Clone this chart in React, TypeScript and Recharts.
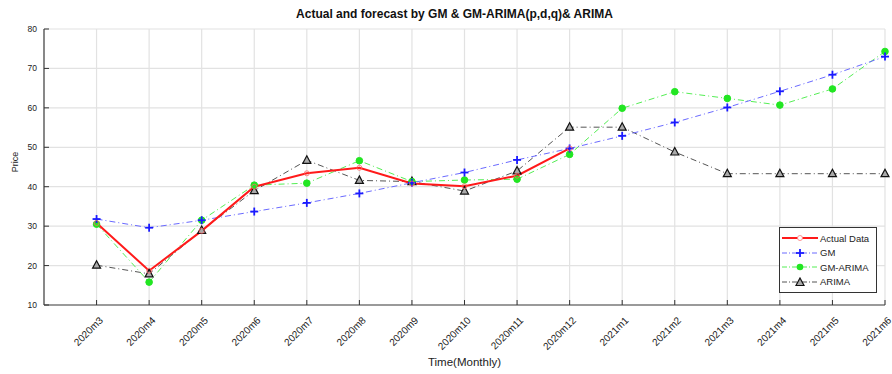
import { LineChart, Line, XAxis, YAxis, CartesianGrid } from "recharts";

// months on the x axis (plotted at positions 1..16)
const months = [
  "2020m3", "2020m4", "2020m5", "2020m6", "2020m7", "2020m8", "2020m9", "2020m10",
  "2020m11", "2020m12", "2021m1", "2021m2", "2021m3", "2021m4", "2021m5", "2021m6",
];
const xTicks = [1, 2, 3, 4, 5, 6, 7, 8, 9, 10, 11, 12, 13, 14, 15, 16];
const yTicks = [10, 20, 30, 40, 50, 60, 70, 80];

const actual = [30.8, 18.7, 28.8, 40.0, 43.4, 44.8, 40.8, 40.1, 42.8, 49.7];
const gm = [31.8, 29.6, 31.5, 33.7, 35.9, 38.3, 41.0, 43.6, 46.8, 49.7, 52.9, 56.3, 60.1, 64.2, 68.4, 73.0];
const gmArima = [30.5, 15.8, 31.5, 40.4, 40.9, 46.6, 41.3, 41.7, 41.9, 48.2, 59.9, 64.1, 62.4, 60.7, 64.8, 74.3];
const arima = [20.1, 17.9, 28.9, 39.0, 46.7, 41.6, 41.3, 38.9, 44.0, 55.1, 55.1, 48.8, 43.3, 43.3, 43.3, 43.3];

const data = months.map((m, i) => ({
  idx: i + 1,
  month: m,
  actual: i < actual.length ? actual[i] : null,
  gm: gm[i],
  gmArima: gmArima[i],
  arima: arima[i],
}));

const FONT = "'Liberation Sans', Arial, sans-serif";
const TXT = "#222";

const BottomTick = (props: any) => {
  const { x, y, payload } = props;
  const ax = x + 7;
  const ay = y + 16;
  return (
    <g>
      <line x1={x} y1={y} x2={x} y2={y - 5} stroke="#333" />
      <text
        x={ax}
        y={ay}
        transform={`rotate(-45, ${ax}, ${ay})`}
        textAnchor="end"
        fontSize={10}
        fontFamily={FONT}
        fill={TXT}
      >
        {months[payload.value - 1]}
      </text>
    </g>
  );
};

const TopTick = (props: any) => {
  const { x, y } = props;
  return <line x1={x} y1={y} x2={x} y2={y + 5} stroke="#333" />;
};

const LeftTick = (props: any) => {
  const { x, y, payload } = props;
  return (
    <g>
      <line x1={x} y1={y} x2={x + 5} y2={y} stroke="#333" />
      <text x={x - 7} y={y + 3} textAnchor="end" fontSize={8.5} fontFamily={FONT} fill={TXT}>
        {payload.value}
      </text>
    </g>
  );
};

const RightTick = (props: any) => {
  const { x, y } = props;
  return <line x1={x} y1={y} x2={x - 5} y2={y} stroke="#333" />;
};

const CircleDot = (props: any) => {
  const { cx, cy, index } = props;
  if (cx == null || cy == null || props.value == null) return <g key={`c-${index}`} />;
  return <circle key={`c-${index}`} cx={cx} cy={cy} r={2.5} fill="none" stroke="#ff6666" strokeWidth={0.8} />;
};

const PlusDot = (props: any) => {
  const { cx, cy, index } = props;
  return (
    <g key={`p-${index}`}>
      <line x1={cx - 4} y1={cy} x2={cx + 4} y2={cy} stroke="#1a1aff" strokeWidth={1.8} />
      <line x1={cx} y1={cy - 4} x2={cx} y2={cy + 4} stroke="#1a1aff" strokeWidth={1.8} />
    </g>
  );
};

const GreenDot = (props: any) => {
  const { cx, cy, index } = props;
  return <circle key={`g-${index}`} cx={cx} cy={cy} r={3.3} fill="#22e622" stroke="#22e622" />;
};

const TriDot = (props: any) => {
  const { cx, cy, index } = props;
  return (
    <path
      key={`t-${index}`}
      d={`M${cx},${cy - 4.5} L${cx + 4},${cy + 3} L${cx - 4},${cy + 3} Z`}
      fill="#aaa"
      stroke="#111"
      strokeWidth={1.2}
    />
  );
};

const legendItems = [
  { name: "Actual Data", color: "#ff1a1a", dash: "", width: 2, marker: "circle" },
  { name: "GM", color: "#6a6aff", dash: "5 2 1 2", width: 1, marker: "plus" },
  { name: "GM-ARIMA", color: "#55ee55", dash: "5 2 1 2", width: 1, marker: "green" },
  { name: "ARIMA", color: "#555", dash: "5 2 1 2", width: 1, marker: "tri" },
];

function LegendBox() {
  return (
    <div
      style={{
        position: "absolute",
        left: 779,
        top: 227,
        width: 98,
        height: 66,
        background: "#fff",
        border: "1.5px solid #333",
        boxSizing: "border-box",
        padding: "3px 1px",
        fontFamily: FONT,
        fontSize: 9.5,
        color: TXT,
      }}
    >
      {legendItems.map((it) => (
        <div key={it.name} style={{ display: "flex", alignItems: "center", height: 14.5 }}>
          <svg width={38} height={10} style={{ flex: "none" }}>
            <line x1={1} y1={5} x2={37} y2={5} stroke={it.color} strokeWidth={it.width} strokeDasharray={it.dash} />
            {it.marker === "circle" && <circle cx={19} cy={5} r={2.5} fill="#fff" stroke="#ff7777" strokeWidth={0.8} />}
            {it.marker === "plus" && (
              <g stroke="#1a1aff" strokeWidth={1.8}>
                <line x1={15} y1={5} x2={23} y2={5} />
                <line x1={19} y1={1} x2={19} y2={9} />
              </g>
            )}
            {it.marker === "green" && <circle cx={19} cy={5} r={3.3} fill="#22e622" />}
            {it.marker === "tri" && (
              <path d="M19,1 L23,8.5 L15,8.5 Z" fill="#aaa" stroke="#111" strokeWidth={1.2} />
            )}
          </svg>
          <span style={{ marginLeft: 1 }}>{it.name}</span>
        </div>
      ))}
    </div>
  );
}

export default function App() {
  return (
    <div style={{ position: "absolute", left: 0, top: 0, width: 892, height: 374, background: "#fff" }}>
      <div
        style={{
          position: "absolute",
          left: 44,
          width: 821,
          top: 7,
          textAlign: "center",
          fontFamily: FONT,
          fontSize: 12,
          fontWeight: "bold",
          color: "#111",
        }}
      >
        Actual and forecast by GM &amp; GM-ARIMA(p,d,q)&amp; ARIMA
      </div>
      <div
        style={{
          position: "absolute",
          left: 44,
          width: 841,
          top: 356,
          textAlign: "center",
          fontFamily: FONT,
          fontSize: 11.5,
          color: TXT,
        }}
      >
        Time(Monthly)
      </div>
      <div
        style={{
          position: "absolute",
          left: 15,
          top: 162,
          transform: "translate(-50%, -50%) rotate(-90deg)",
          fontFamily: FONT,
          fontSize: 9,
          color: TXT,
        }}
      >
        Price
      </div>
      <LineChart width={892} height={374} data={data} margin={{ top: 29, right: 7, bottom: 0, left: 0 }}>
        <CartesianGrid stroke="#e2e2e2" strokeWidth={1.2} />
        <XAxis
          dataKey="idx"
          type="number"
          domain={[0, 16]}
          ticks={xTicks}
          height={69}
          tickSize={0}
          tickMargin={0}
          tickLine={false}
          tick={BottomTick}
          axisLine={{ stroke: "#444", strokeWidth: 1.2 }}
          interval={0}
        />
        <XAxis
          xAxisId="top"
          orientation="top"
          dataKey="idx"
          type="number"
          domain={[0, 16]}
          ticks={xTicks}
          height={0}
          tickSize={0}
          tickMargin={0}
          tickLine={false}
          tick={TopTick}
          axisLine={{ stroke: "#444", strokeWidth: 1.2 }}
          interval={0}
        />
        <YAxis
          type="number"
          domain={[10, 80]}
          ticks={yTicks}
          width={44}
          tickSize={0}
          tickMargin={0}
          tickLine={false}
          tick={LeftTick}
          axisLine={{ stroke: "#444", strokeWidth: 1.2 }}
          interval={0}
        />
        <YAxis
          yAxisId="r"
          orientation="right"
          type="number"
          domain={[10, 80]}
          ticks={yTicks}
          width={0}
          tickSize={0}
          tickMargin={0}
          tickLine={false}
          tick={RightTick}
          axisLine={{ stroke: "#444", strokeWidth: 1.2 }}
          interval={0}
        />
        <Line
          dataKey="arima"
          stroke="#555"
          strokeWidth={1}
          strokeDasharray="6 3 1 3"
          dot={TriDot}
          isAnimationActive={false}
        />
        <Line
          dataKey="gmArima"
          stroke="#55ee55"
          strokeWidth={1}
          strokeDasharray="6 3 1 3"
          dot={GreenDot}
          isAnimationActive={false}
        />
        <Line
          dataKey="gm"
          stroke="#6a6aff"
          strokeWidth={1}
          strokeDasharray="6 3 1 3"
          dot={PlusDot}
          isAnimationActive={false}
        />
        <Line
          dataKey="actual"
          stroke="#ff1a1a"
          strokeWidth={2}
          dot={CircleDot}
          isAnimationActive={false}
        />
      </LineChart>
      <LegendBox />
    </div>
  );
}
